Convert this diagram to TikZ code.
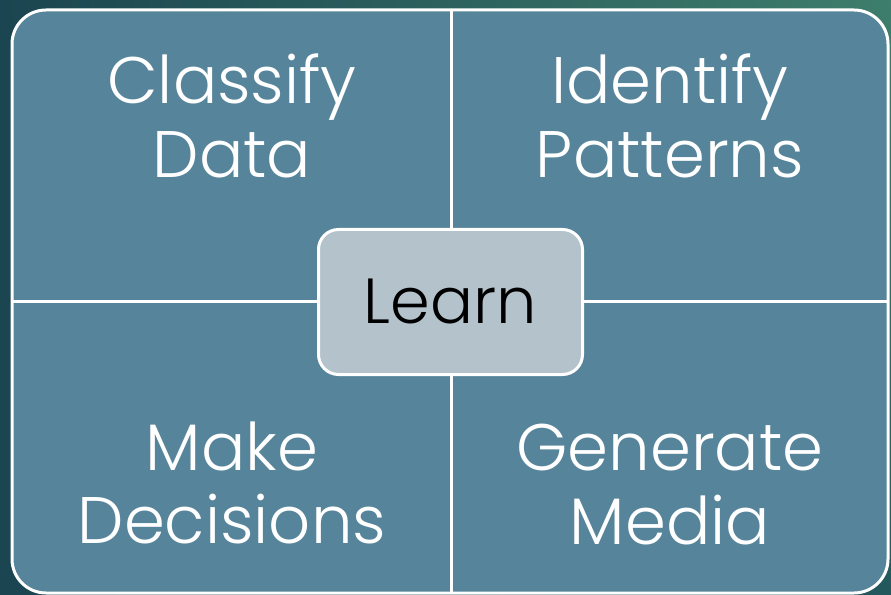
\documentclass[tikz,border=0pt]{standalone}
\usepackage{fontspec}
\setmainfont{Poppins}[UprightFont=* Light]
\usetikzlibrary{shadings}
\definecolor{bgdark}{HTML}{1B4550}
\definecolor{bgmid}{HTML}{23585D}
\definecolor{bggreen}{HTML}{3E7E6C}
\definecolor{quadfill}{HTML}{56849A}
\definecolor{learnfill}{HTML}{B3C2CB}
\tikzset{
  quadtext/.style={text=white, align=center, font=\fontsize{66}{74}\selectfont, inner sep=0pt, anchor=base},
  divider/.style={draw=white, line width=3bp},
  learnbox/.style={draw=white, line width=3bp, fill=learnfill, rounded corners=20bp, minimum width=264bp, minimum height=145bp, font=\fontsize{64}{70}\selectfont, text=black}
}
\begin{document}
\begin{tikzpicture}[x=1bp,y=-1bp]
  \useasboundingbox (0,0) rectangle (891,595);
  \shade[lower left=bgdark, upper left=bgdark, lower right=bgmid, upper right=bggreen] (0,0) rectangle (891,595);
  % main panel
  \draw[divider, fill=quadfill, rounded corners=34bp] (12,10) rectangle (888,593);
  \coordinate (vt) at (451,10);
  \coordinate (vb) at (451,593);
  \coordinate (hl) at (12,301);
  \coordinate (hr) at (888,301);
  \draw[divider] (vt) -- (vb);
  \draw[divider] (hl) -- (hr);
  % texts
  \node[quadtext] (c1) at (232,104) {Classify};
  \node[quadtext] (c2) at (232,178) {Data};
  \node[quadtext] (i1) at (670,104) {Identify};
  \node[quadtext] (i2) at (670,178) {Patterns};
  \node[quadtext] (m1) at (232,470) {Make};
  \node[quadtext] (m2) at (232,543) {Decisions};
  \node[quadtext] (g1) at (670,470) {Generate};
  \node[quadtext] (g2) at (670,544) {Media};
  % learn
  \node[learnbox] (learn) at (450.5,302) {};
  \node[font=\fontsize{64}{70}\selectfont, inner sep=0pt, anchor=base] (lt) at (450,323) {Learn};
\end{tikzpicture}
\end{document}
